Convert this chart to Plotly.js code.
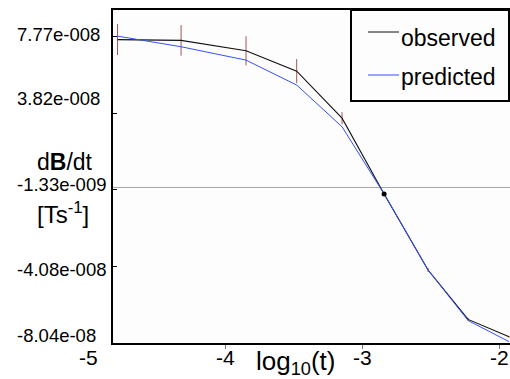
<!DOCTYPE html>
<html><head><meta charset="utf-8">
<script src="https://cdn.plot.ly/plotly-3.0.1.min.js"></script>
<style>html,body{margin:0;padding:0;background:#fff}#chart{width:510px;height:379px}</style>
</head><body><div id="chart"></div>
<script>
// ---- data ----
const logT = [-4.785, -4.321, -3.847, -3.477, -3.146, -2.839, -2.518, -2.226, -1.927];
const observed = [7.63e-8, 7.59e-8, 7.05e-8, 6.00e-8, 3.57e-8, -3.5e-9, -4.28e-8, -6.83e-8, -7.73e-8];
const observedErr = [8.0e-9, 7.9e-9, 7.5e-9, 6.2e-9, 3.1e-9, 1.0e-9, 1.0e-9, 0.8e-9, 0.5e-9];
const predicted = [7.81e-8, 7.26e-8, 6.57e-8, 5.28e-8, 3.125e-8, -3.5e-9, -4.28e-8, -6.89e-8, -7.98e-8];
const seriesNames = ['observed', 'predicted'];
const yTickVals = [7.77e-8, 3.82e-8, -1.33e-9, -4.08e-8, -8.04e-8];
const yTickText = ['7.77e-008', '3.82e-008', '-1.33e-009', '-4.08e-008', '-8.04e-08'];
const xTickVals = [-5, -4, -3, -2];
const xTickText = ['-5', '-4', '-3', '-2'];
const markedIndex = 5;

// ---- layout helpers (pixel -> paper) ----
const W = 510, H = 379, ML = 113, MR = 0, MT = 10, MB = 36;
const PW = W - ML - MR, PH = H - MT - MB;
const px = v => (v - ML) / PW;
const py = v => (H - MB - v) / PH;
const FONT = 'Liberation Sans, Arial, sans-serif';
const yLabelShift = [2, 15, 5, -3, 7];
const xRange = [-4.818, -1.92];
const xToPaper = v => (v - xRange[0]) / (xRange[1] - xRange[0]);

const traces = [
  {x: logT, y: observed, name: seriesNames[0], mode: 'lines',
   line: {color: '#111111', width: 1.1},
   error_y: {type: 'data', array: observedErr, visible: true, color: '#a05555', thickness: 1, width: 0}},
  {x: logT, y: predicted, name: seriesNames[1], mode: 'lines',
   line: {color: '#3550f8', width: 1}},
  {x: [logT[markedIndex]], y: [observed[markedIndex]], mode: 'markers', showlegend: false,
   marker: {color: '#000', size: 5, symbol: 'circle'}}
];

const annotations = [];
yTickVals.forEach((v, i) => annotations.push({
  xref: 'paper', yref: 'y', x: px(15), y: v, xanchor: 'left', yanchor: 'middle',
  yshift: yLabelShift[i], text: yTickText[i], showarrow: false,
  font: {family: FONT, size: 18.5, color: '#000'}
}));
xTickVals.forEach((v, i) => annotations.push({
  xref: 'paper', yref: 'paper', x: xToPaper(v), y: 0, xanchor: 'center', yanchor: 'middle',
  yshift: -14, text: xTickText[i], showarrow: false,
  font: {family: FONT, size: 21, color: '#000'}
}));
annotations.push({xref: 'paper', yref: 'paper', x: px(295), y: py(362), xanchor: 'center', yanchor: 'middle',
  text: 'log<sub>10</sub>(t)', showarrow: false, font: {family: FONT, size: 26, color: '#000'}});
annotations.push({xref: 'paper', yref: 'paper', x: px(65), y: py(162), xanchor: 'center', yanchor: 'middle',
  text: 'd<b>B</b>/dt', showarrow: false, font: {family: FONT, size: 23, color: '#000'}});
annotations.push({xref: 'paper', yref: 'paper', x: px(63), y: py(213), xanchor: 'center', yanchor: 'middle',
  text: '[Ts<sup>-1</sup>]', showarrow: false, font: {family: FONT, size: 24, color: '#000'}});
// manual legend text
const legendRows = [38, 77];
seriesNames.forEach((n, i) => annotations.push({
  xref: 'paper', yref: 'paper', x: px(399), y: py(legendRows[i]), xanchor: 'left', yanchor: 'middle',
  text: n, showarrow: false, font: {family: FONT, size: 23, color: '#000'}
}));

const shapes = [
  {type: 'rect', xref: 'paper', yref: 'paper', x0: px(351), x1: px(509), y0: py(101), y1: 1,
   line: {color: '#000', width: 2}, fillcolor: '#fdfdfd'},
  {type: 'line', xref: 'paper', yref: 'paper', x0: px(368), x1: px(399), y0: py(32), y1: py(32),
   line: {color: traces[0].line.color, width: 1}},
  {type: 'line', xref: 'paper', yref: 'paper', x0: px(368), x1: px(399), y0: py(75), y1: py(75),
   line: {color: traces[1].line.color, width: 1}}
];

const layout = {
  width: W, height: H,
  margin: {l: ML, r: MR, t: MT, b: MB, pad: 0},
  paper_bgcolor: '#ffffff', plot_bgcolor: '#fdfdfd',
  showlegend: false,
  font: {family: FONT, color: '#000'},
  xaxis: {range: xRange, tickmode: 'array', tickvals: xTickVals, showticklabels: false,
    ticks: 'outside', ticklen: 4, tickcolor: '#777', tickwidth: 1,
    showline: true, linecolor: '#000', linewidth: 2, mirror: true,
    showgrid: false, zeroline: false},
  yaxis: {range: [-8.05e-8, 9.16e-8], tickmode: 'array', tickvals: yTickVals, showticklabels: false,
    ticks: 'inside', ticklen: 4, tickcolor: '#000', tickwidth: 1,
    showline: true, linecolor: '#000', linewidth: 2, mirror: false,
    showgrid: false, zeroline: true, zerolinecolor: '#a8a8a8', zerolinewidth: 1},
  annotations: annotations,
  shapes: shapes
};

Plotly.newPlot('chart', traces, layout, {displayModeBar: false, staticPlot: true}).then(gd => {
  // drop empty placeholder text nodes (unused titles)
  gd.querySelectorAll('text').forEach(t => { if (!t.textContent.trim()) t.remove(); });
});
</script>
</body></html>
